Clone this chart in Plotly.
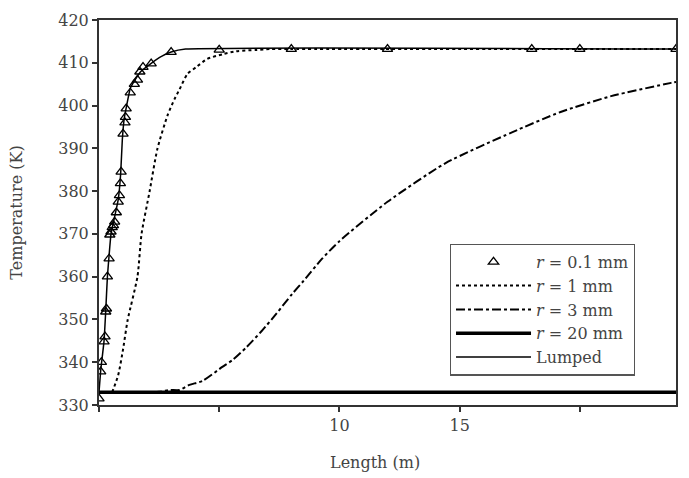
import plotly.graph_objects as go

# r = 0.1 mm (markers)
r01_x = [0.0, 0.07, 0.10, 0.21, 0.25, 0.28, 0.31, 0.35, 0.42, 0.45, 0.50, 0.55, 0.60, 0.65, 0.72,
         0.80, 0.85, 0.89, 0.92, 1.00, 1.08, 1.10, 1.13, 1.30, 1.47, 1.60, 1.70, 1.83, 2.17,
         3.0, 5.0, 8.0, 12.0, 18.0, 20.0, 24.0]
r01_y = [331.5, 337.8, 340.0, 344.8, 346.0, 351.8, 352.5, 360.0, 364.2, 369.8, 370.5, 371.5, 372.0, 372.8, 375.0,
         377.5, 379.0, 381.8, 384.5, 393.4, 396.0, 397.3, 399.3, 403.0, 405.0, 406.0, 407.9, 409.0, 409.8,
         412.5, 413.0, 413.2, 413.2, 413.2, 413.2, 413.2]

# r = 1 mm (dotted)
r1_x = [0.55, 0.8, 1.0, 1.19, 1.6, 1.77, 2.1, 2.43, 2.85, 3.14, 3.35, 3.68, 4.05, 4.5, 5.15, 5.7, 6.55, 7.1, 8.0, 24.0]
r1_y = [333.0, 337.0, 343.0, 349.8, 360.0, 370.0, 379.8, 389.9, 397.7, 401.5, 403.8, 407.4, 409.0, 410.9, 412.0, 412.7, 413.0, 413.2, 413.2, 413.2]

# r = 3 mm (dash-dot)
r3_x = [0.0, 2.5, 2.93, 3.35, 3.76, 4.3, 5.13, 5.55, 6.13, 6.8, 7.37, 8.04, 8.46, 9.28, 10.0,
        12.0, 14.4, 17.2, 19.2, 21.3, 23.8, 24.0]
r3_y = [333.0, 333.1, 333.5, 333.5, 334.7, 335.6, 338.9, 340.5, 343.5, 347.5, 351.3, 356.0, 358.7, 364.2, 368.3,
        377.5, 386.5, 393.8, 398.5, 402.2, 405.3, 405.5]

# r = 20 mm (thick solid)
r20_x = [0.0, 24.0]
r20_y = [333.0, 333.0]

# Lumped (thin solid)
lump_x = [0.0, 0.07, 0.21, 0.28, 0.35, 0.42, 0.50, 0.65, 0.80, 0.90, 0.97, 1.05, 1.15, 1.30, 1.50, 1.75, 2.2, 2.6, 3.0, 3.6, 24.0]
lump_y = [333.0, 338.0, 345.0, 352.0, 360.0, 365.0, 370.0, 374.0, 378.0, 384.0, 392.0, 397.0, 400.0, 404.0, 406.0, 408.0, 410.0, 411.5, 412.5, 413.2, 413.2]

x_tickvals = [0, 5, 10, 15, 20]
x_ticktext = ["", "", "10", "15", ""]
y_tickvals = [330, 340, 350, 360, 370, 380, 390, 400, 410, 420]

FONT = "DejaVu Serif"
TXT = "#444"

fig = go.Figure()
fig.add_trace(go.Scatter(x=r01_x, y=r01_y, mode="markers", name="<i>r</i> = 0.1 mm",
                         marker=dict(symbol="triangle-up-open", size=9, color="black",
                                     line=dict(width=1.3, color="black"))))
fig.add_trace(go.Scatter(x=r1_x, y=r1_y, mode="lines", name="<i>r</i> = 1 mm",
                         line=dict(color="black", width=2, dash="dot", shape="spline", smoothing=0.6)))
fig.add_trace(go.Scatter(x=r3_x, y=r3_y, mode="lines", name="<i>r</i> = 3 mm",
                         line=dict(color="black", width=2, dash="dashdot", shape="spline", smoothing=0.6)))
fig.add_trace(go.Scatter(x=r20_x, y=r20_y, mode="lines", name="<i>r</i> = 20 mm",
                         line=dict(color="black", width=3.5)))
fig.add_trace(go.Scatter(x=lump_x, y=lump_y, mode="lines", name="Lumped",
                         line=dict(color="black", width=1.5, shape="spline", smoothing=0.4)))

fig.update_layout(
    width=689, height=478,
    margin=dict(l=99, r=11, t=18, b=73),
    paper_bgcolor="white", plot_bgcolor="white",
    font=dict(family=FONT, size=16, color=TXT),
    showlegend=True,
    legend=dict(x=0.608, y=0.419, xanchor="left", yanchor="top",
                bordercolor="#555", borderwidth=1.2, bgcolor="white",
                font=dict(family=FONT, size=16, color=TXT),
                itemwidth=75, tracegroupgap=0),
    xaxis=dict(range=[0, 24], tickvals=x_tickvals, ticktext=x_ticktext,
               ticks="outside", ticklen=5, tickwidth=1.5, tickcolor="#333",
               showline=True, linecolor="#333", linewidth=1.5, mirror=True,
               showgrid=False, zeroline=False,
               tickfont=dict(family=FONT, size=16, color=TXT)),
    yaxis=dict(range=[330, 420], tickvals=y_tickvals,
               ticks="outside", ticklen=5, tickwidth=1.5, tickcolor="#333",
               showline=True, linecolor="#333", linewidth=2, mirror=True,
               showgrid=False, zeroline=False,
               title=dict(text="Temperature (K)", font=dict(family=FONT, size=16, color=TXT), standoff=32),
               tickfont=dict(family=FONT, size=16, color=TXT)),
    annotations=[dict(text="Length (m)", xref="paper", yref="paper", x=0.478, y=-0.15,
                      xanchor="center", yanchor="middle", showarrow=False,
                      font=dict(family=FONT, size=16, color=TXT))],
)

fig.write_html("out.html")
